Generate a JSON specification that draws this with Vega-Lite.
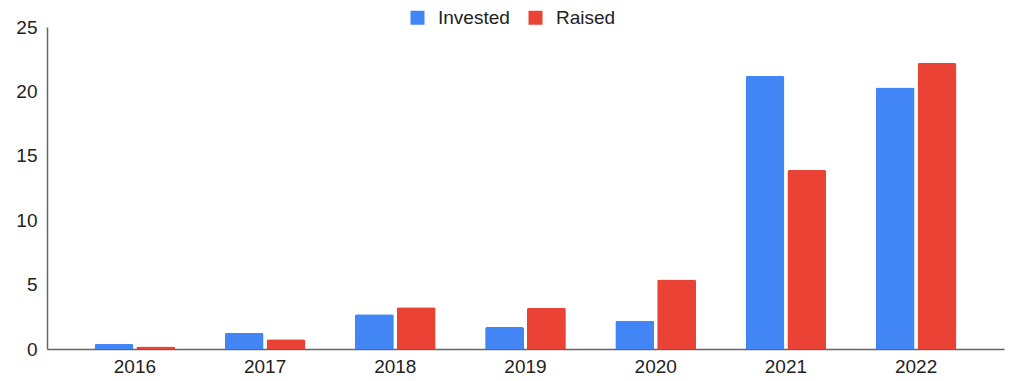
{
  "$schema": "https://vega.github.io/schema/vega-lite/v6.json",
  "width": 957,
  "height": 322,
  "autosize": "none",
  "padding": {"left": 47, "top": 27, "right": 20, "bottom": 32},
  "background": "white",
  "data": {
    "values": [
      {"year": "2016", "series": "Invested", "value": 0.4},
      {"year": "2016", "series": "Raised", "value": 0.2},
      {"year": "2017", "series": "Invested", "value": 1.25},
      {"year": "2017", "series": "Raised", "value": 0.75},
      {"year": "2018", "series": "Invested", "value": 2.7},
      {"year": "2018", "series": "Raised", "value": 3.25},
      {"year": "2019", "series": "Invested", "value": 1.7},
      {"year": "2019", "series": "Raised", "value": 3.2},
      {"year": "2020", "series": "Invested", "value": 2.2},
      {"year": "2020", "series": "Raised", "value": 5.4},
      {"year": "2021", "series": "Invested", "value": 21.2},
      {"year": "2021", "series": "Raised", "value": 13.9},
      {"year": "2022", "series": "Invested", "value": 20.3},
      {"year": "2022", "series": "Raised", "value": 22.2}
    ]
  },
  "mark": {"type": "bar", "cornerRadiusTopLeft": 2, "cornerRadiusTopRight": 2},
  "encoding": {
    "x": {
      "field": "year", "type": "nominal", "title": null,
      "scale": {"paddingInner": 0.38, "paddingOuter": 0.365},
      "axis": {"labelAngle": 0, "ticks": false, "domainColor": "#666666", "domainWidth": 1.5, "labelFontSize": 19, "labelColor": "#222222", "labelFont": "Liberation Sans", "labelPadding": 8}
    },
    "xOffset": {"field": "series", "type": "nominal", "scale": {"paddingInner": 0.07}},
    "y": {
      "field": "value", "type": "quantitative", "title": null,
      "scale": {"domain": [0, 25]},
      "axis": {"values": [0, 5, 10, 15, 20, 25], "grid": false, "ticks": false, "domainColor": "#666666", "domainWidth": 1.5, "labelFontSize": 19, "labelColor": "#222222", "labelFont": "Liberation Sans", "labelPadding": 10}
    },
    "color": {
      "field": "series", "type": "nominal",
      "scale": {"domain": ["Invested", "Raised"], "range": ["#4285F4", "#EA4335"]},
      "legend": {
        "title": null, "orient": "none", "direction": "horizontal",
        "legendX": 361, "legendY": -19,
        "symbolType": "square", "symbolSize": 196, "symbolStrokeWidth": 0,
        "labelFontSize": 19, "labelFont": "Liberation Sans", "labelColor": "#222222",
        "columnPadding": 16, "labelOffset": 11
      }
    }
  },
  "config": {"view": {"stroke": null}}
}
